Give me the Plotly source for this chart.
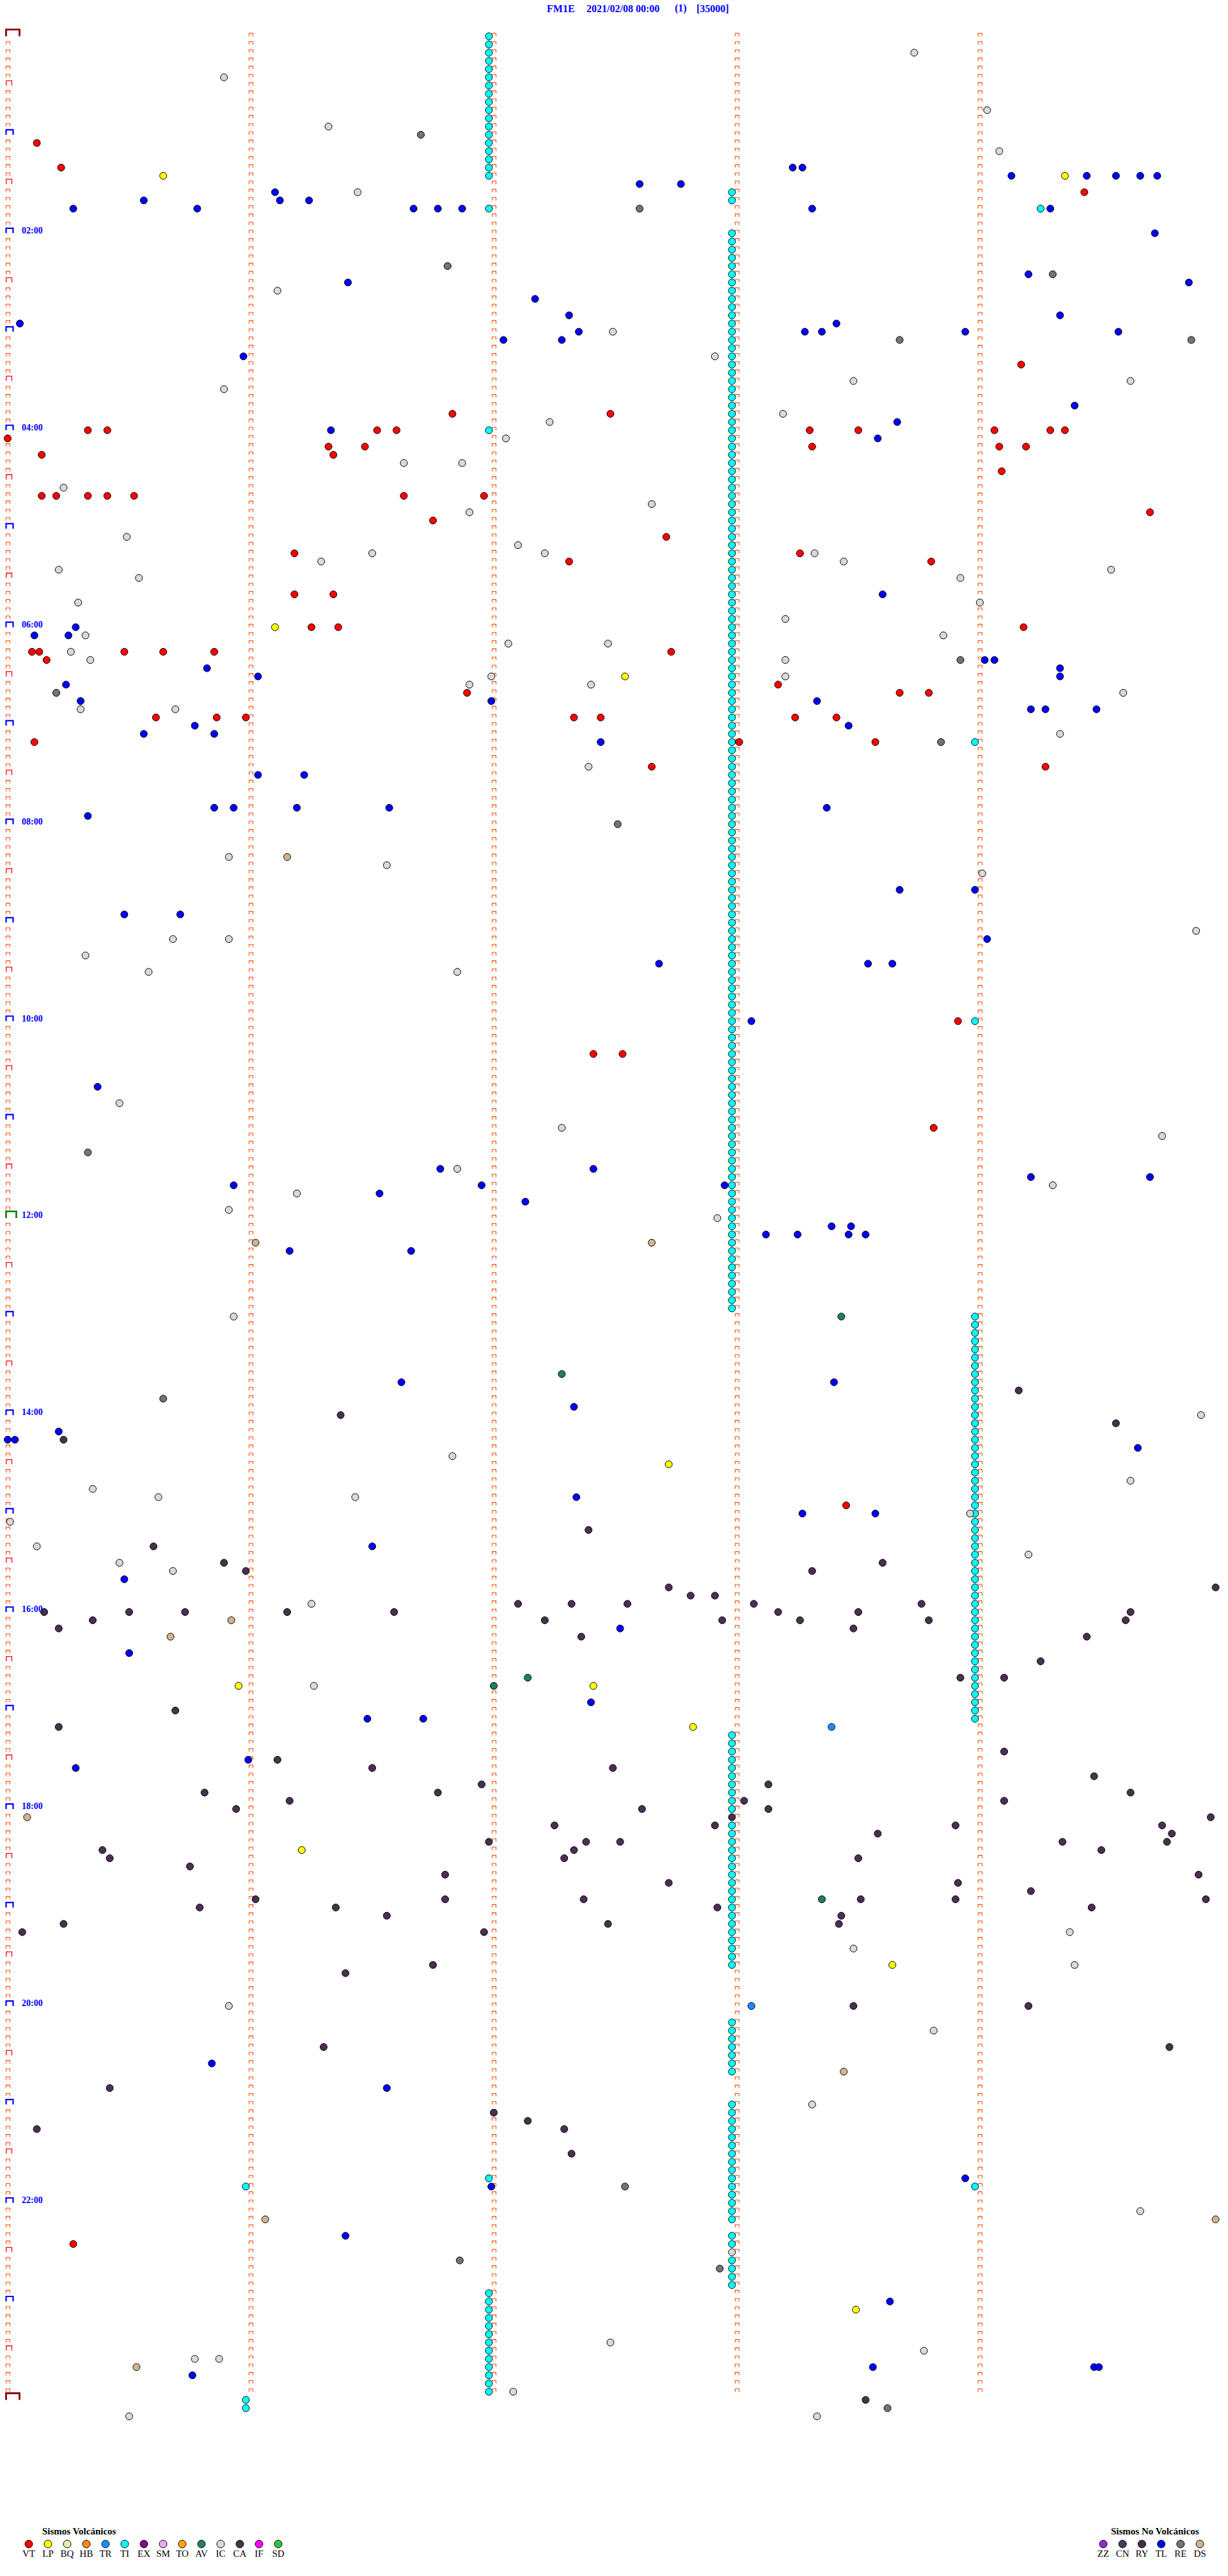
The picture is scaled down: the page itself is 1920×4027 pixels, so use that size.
import numpy as np
import plotly.graph_objects as go

# ---------------- data: event times in minutes after 00:00 (2021/02/08) ----------------
TITLE_PARTS = ["FM1E", "2021/02/08 00:00", "(1)", "[35000]"]
HOUR_LABELS = ["02:00", "04:00", "06:00", "08:00", "10:00", "12:00",
               "14:00", "16:00", "18:00", "20:00", "22:00"]
HOUR_LABEL_HOURS = [2, 4, 6, 8, 10, 12, 14, 16, 18, 20, 22]

VOLC_TYPES = ["VT", "LP", "BQ", "HB", "TR", "TI", "EX", "SM", "TO", "AV", "IC", "CA", "IF", "SD"]
NOVOLC_TYPES = ["ZZ", "CN", "RY", "TL", "RE", "DS"]

VT = [65.12, 80.22, 99.43, 204.17, 231.83, 232.48, 240.33, 240.41, 241.52, 241.60, 243.30, 243.50,
      244.06, 244.29, 244.35, 245.00, 251.32, 251.47, 253.31, 254.08, 254.19, 255.14, 256.34, 269.09,
      280.14, 280.20, 280.33, 280.41, 280.52, 281.63, 281.96, 294.70, 296.75, 307.71, 316.18, 318.26,
      322.31, 323.80, 341.18, 341.34, 361.25, 361.36, 364.18, 375.10, 375.13, 375.48, 375.64, 375.85,
      377.73, 380.16, 398.17, 401.89, 403.67, 403.79, 415.61, 415.86, 415.98, 417.33, 417.44, 418.24,
      418.41, 430.11, 433.01, 433.57, 447.65, 449.27, 603.91, 622.41, 622.53, 668.81, 898.45, 1345.27]
LP = [85.64, 89.35, 361.10, 392.54, 872.72, 1005.95, 1007.41, 1032.82, 1106.21, 1178.64, 1388.49]
TR = [1033.39, 1203.06]
AV = [783.43, 817.28, 1007.00, 1002.14, 1138.35]
TI = [1.98, 6.98, 11.98, 16.98, 21.98, 26.98, 31.98, 36.98, 41.98, 46.98, 51.98, 56.98, 61.98,
      66.98, 71.98, 76.98, 81.98, 86.98, 106.98, 241.98, 1306.98, 1376.98, 1381.98, 1386.98, 1391.98,
      1396.98, 1401.98, 1406.98, 1411.98, 1416.98, 1421.98, 1426.98, 1431.98, 1436.98,
      97.98, 102.98, 109.25,
      122.98, 127.98, 132.98, 137.98, 142.98, 147.98, 152.98, 157.98, 162.98, 167.98,
      172.98, 177.98, 182.98, 187.98, 192.98, 197.98, 202.98, 207.98, 212.98, 217.98,
      222.98, 227.98, 232.98, 237.98, 242.98, 247.98, 252.98, 257.98, 262.98, 267.98,
      272.98, 277.98, 282.98, 287.98, 292.98, 297.98, 302.98, 307.98, 312.98, 317.98,
      322.98, 327.98, 332.98, 337.98, 342.98, 347.98, 352.98, 357.98, 362.98, 367.98,
      372.98, 377.98, 382.98, 387.98, 392.98, 397.98, 402.98, 407.98, 412.98, 417.98,
      422.98, 427.98, 432.98, 437.98, 442.98, 447.98, 452.98, 457.98, 462.98, 467.98,
      472.98, 477.98, 482.98, 487.98, 492.98, 497.98, 502.98, 507.98, 512.98, 517.98,
      522.98, 527.98, 532.98, 537.98, 542.98, 547.98, 552.98, 557.98, 562.98, 567.98,
      572.98, 577.98, 582.98, 587.98, 592.98, 597.98, 602.98, 607.98, 612.98, 617.98,
      622.98, 627.98, 632.98, 637.98, 642.98, 647.98, 652.98, 657.98, 662.98, 667.98,
      672.98, 677.98, 682.98, 687.98, 692.98, 697.98, 702.98, 707.98, 712.98, 717.98,
      722.98, 727.98, 732.98, 737.98, 742.98, 747.98, 752.98, 757.98, 762.98, 767.98,
      772.98, 777.98,
      1037.98, 1042.98, 1047.98, 1052.98, 1057.98, 1062.98, 1067.98, 1072.98, 1077.98, 1082.98,
      1092.98, 1097.98, 1102.98, 1107.98, 1112.98, 1117.98, 1122.98, 1127.98, 1132.98, 1137.98,
      1142.98, 1147.98, 1152.98, 1157.98, 1162.98, 1167.98, 1172.98, 1177.98,
      1212.98, 1217.98, 1222.98, 1227.98, 1232.98, 1237.98, 1242.98,
      1262.98, 1267.98, 1272.98, 1277.98, 1282.98, 1287.98, 1292.98, 1297.98, 1302.98, 1307.98,
      1312.98, 1317.98, 1322.98, 1327.98, 1332.98,
      1342.98, 1347.98, 1357.98, 1362.98, 1367.98, 1372.98,
      433.98, 603.98,
      783.98, 788.98, 793.98, 798.98, 803.98, 808.98, 813.98, 818.98, 823.98, 828.98,
      833.98, 838.98, 843.98, 848.98, 853.98, 858.98, 863.98, 868.98, 873.98, 878.98,
      883.98, 888.98, 893.98, 898.98, 903.98, 908.98, 913.98, 918.98, 923.98, 928.98,
      933.98, 938.98, 943.98, 948.98, 953.98, 958.98, 963.98, 968.98, 973.98, 978.98,
      983.98, 988.98, 993.98, 998.98, 1003.98, 1008.98, 1013.98, 1018.98, 1023.98, 1028.98,
      1313.98, 1310.98, 1440.98, 1445.98]
IC = [13.73, 25.89, 49.03, 56.32, 74.08, 96.44, 156.11, 182.49, 197.91, 213.48, 214.62, 215.89,
      233.19, 237.23, 247.05, 261.63, 261.87, 275.23, 287.65, 291.90, 305.49, 312.10, 316.50, 317.21,
      318.32, 321.29, 323.44, 325.21, 329.54, 330.54, 333.92, 345.29, 349.00, 358.20, 365.32, 368.85,
      372.06, 372.47, 375.26, 380.34, 383.20, 391.99, 393.20, 396.90, 397.40, 404.59, 410.30, 410.69,
      429.33, 447.39, 500.91, 506.56, 514.01, 549.89, 550.68, 550.91, 560.32, 570.58, 571.85, 650.46,
      667.28, 674.75, 691.85, 704.30, 706.19, 715.91, 722.92, 780.93, 844.91, 866.83, 884.62, 885.35,
      890.62, 891.43, 903.96, 905.01, 920.12, 929.20, 930.46, 935.68, 956.25, 1006.26, 1159.37,
      1168.48, 1179.39, 1200.91, 1218.81, 1263.31, 1329.66, 1352.98, 1407.48, 1413.77, 1415.77,
      1415.87, 1437.08, 1450.50, 1453.33]
CA = [829.16, 841.37, 849.56, 855.23, 912.39, 920.60, 930.89, 933.60, 935.98, 938.31, 947.72, 949.97,
      952.81, 952.91, 957.10, 957.32, 957.55, 958.07, 958.76, 960.15, 960.50, 960.73, 961.15, 961.59,
      963.17, 963.50, 964.62, 965.35, 967.21, 967.94, 968.26, 968.79, 969.60, 970.21, 973.48, 977.36,
      979.44, 994.25, 1004.10, 1003.92, 1020.69, 1030.21, 1049.10, 1051.11, 1056.50, 1057.49, 1064.47,
      1066.95, 1068.13, 1070.81, 1071.77, 1074.62, 1076.16, 1078.03, 1079.10, 1080.94, 1082.61,
      1083.13, 1087.98, 1089.95, 1092.25, 1092.91, 1093.90, 1094.75, 1098.58, 1099.79, 1101.98,
      1102.38, 1102.52, 1104.34, 1104.77, 1105.39, 1107.33, 1109.50, 1110.42, 1112.29, 1113.50,
      1115.75, 1121.80, 1124.90, 1127.72, 1128.91, 1134.21, 1136.02, 1136.80, 1137.37, 1138.51,
      1138.90, 1139.93, 1140.79, 1141.35, 1142.92, 1144.46, 1146.56, 1148.43, 1150.23, 1152.47,
      1153.42, 1155.06, 1156.96, 1176.75, 1181.39, 1203.48, 1204.20, 1226.30, 1229.78, 1250.42,
      1267.00, 1272.14, 1275.12, 1277.29, 1292.32, 1443.53]
TL = [83.23, 83.27, 89.13, 89.44, 89.56, 89.66, 89.73, 92.60, 92.77, 96.10, 101.12, 101.24, 100.56,
      105.27, 105.78, 106.67, 106.77, 106.87, 108.31, 109.29, 124.72, 149.20, 151.40, 154.86, 162.17,
      172.31, 174.33, 175.05, 178.41, 182.35, 183.28, 183.35, 183.94, 184.57, 187.04, 187.28, 195.97,
      229.39, 238.66, 241.33, 248.58, 343.60, 360.28, 365.11, 365.25, 384.02, 384.06, 385.82, 389.33,
      391.03, 394.33, 395.24, 405.30, 406.99, 408.33, 414.21, 414.27, 414.48, 420.77, 423.46, 425.56,
      425.85, 432.44, 451.03, 451.22, 470.85, 470.93, 471.19, 471.57, 473.37, 475.33, 523.67, 523.98,
      535.48, 535.71, 554.03, 567.68, 568.54, 568.64, 603.06, 640.37, 691.78, 692.41, 699.21, 699.70,
      700.93, 701.95, 702.95, 706.53, 712.13, 728.39, 728.47, 733.12, 733.25, 733.46, 733.53, 741.16,
      741.66, 821.62, 823.40, 837.33, 850.21, 855.00, 855.03, 864.65, 892.34, 903.27, 903.57, 921.50,
      940.48, 972.52, 985.50, 1017.40, 1026.48, 1026.71, 1050.99, 1055.28, 1235.84, 1251.56, 1308.94,
      1311.99, 1341.39, 1383.63, 1423.56, 1424.47, 1424.49, 1425.76]
RE = [61.70, 107.60, 141.81, 149.30, 188.67, 189.87, 383.92, 400.20, 433.84, 482.51, 680.33, 830.64,
      1312.54, 1356.86, 1362.93, 1448.62]
DS = [501.15, 736.02, 737.65, 965.92, 975.67, 1085.08, 1243.44, 1331.06, 1334.97, 1420.53]

EVENTS = {"VT": VT, "LP": LP, "TR": TR, "TI": TI, "AV": AV, "IC": IC, "CA": CA,
          "RE": RE, "DS": DS, "TL": TL}

# ---------------- styles ----------------
COLORS = {"VT": "#ff0000", "LP": "#ffff00", "BQ": "#eee8aa", "HB": "#ff8a1c", "TR": "#1e8cff",
          "TI": "#00ffff", "EX": "#8b008b", "SM": "#eeaae6", "TO": "#ffa500", "AV": "#1f8060",
          "IC": "#d9d9d9", "CA": "#4a3050", "IF": "#ff00ff", "SD": "#33c433",
          "ZZ": "#8a2be2", "CN": "#4a3c5a", "RY": "#4a2c48", "TL": "#0000ff", "RE": "#747474",
          "DS": "#d2b48c"}
SERIF = "Liberation Serif, Times New Roman, serif"

W, H = 1920, 4027
X0, PX_MIN = 12.0, 380.0          # pixel of minute 0, pixels per minute
Y0, PX_ROW = 56.7, 12.83          # pixel of row 0 baseline, pixels per 5-minute row
N_ROWS = 288
ROW_MIN = 5

xr = [(-X0) / PX_MIN, (W - X0) / PX_MIN]
yr = [(H - Y0) / PX_ROW, (-Y0) / PX_ROW]

def px_x(p):   # pixel width -> minutes
    return p / PX_MIN

def px_y(p):   # pixel height -> rows
    return p / PX_ROW

fig = go.Figure()

# ---------------- minute tick brackets ----------------
def bracket_path(cols, rows, left_px, right_px, h_px):
    xs, ys = [], []
    for c, r in zip(cols, rows):
        xl, xrr = c + px_x(left_px), c + px_x(right_px)
        top = r - px_y(h_px)
        xs += [xl, xl, xrr, xrr, None]
        ys += [r, top, top, r, None]
    return xs, ys

small_c, small_r = [], []
red_c, red_r, blue_c, blue_r = [], [], [], []
for r in range(N_ROWS):
    for c in range(1, 5):
        small_c.append(c); small_r.append(r)
    if r == 0 or r == 144:
        continue
    if r % 12 == 0:
        blue_c.append(0); blue_r.append(r)
    elif r % 6 == 0:
        red_c.append(0); red_r.append(r)
    else:
        small_c.append(0); small_r.append(r)

for (cols, rows, l, rgt, h, col, lw) in [
        (small_c, small_r, -2.5, 3.5, 4.6, "#ff4a00", 1.1),
        (red_c, red_r, -2.2, 6.5, 7.5, "#ff0000", 1.3),
        (blue_c, blue_r, -2.5, 8.5, 7.8, "#0000ff", 2.2),
        ([0], [144], -2.5, 13.5, 10.5, "#008000", 2.6),
        ([0, 0], [0, N_ROWS], -2.5, 18.5, 10.5, "#8b0000", 2.8)]:
    xs, ys = bracket_path(cols, rows, l, rgt, h)
    fig.add_trace(go.Scatter(x=xs, y=ys, mode="lines", line=dict(color=col, width=lw),
                             hoverinfo="skip", showlegend=False))

# ---------------- events ----------------
draw_order = ["TI", "IC", "RE", "DS", "AV", "LP", "TR", "CA", "VT", "TL"]
for k in draw_order:
    t = np.array(EVENTS[k], dtype=float)
    rows = np.floor(t / ROW_MIN)
    offs = t - rows * ROW_MIN
    fig.add_trace(go.Scatter(x=offs, y=rows, mode="markers", name=k, showlegend=False,
                             marker=dict(size=11, color=COLORS[k], line=dict(color="black", width=1))))

# ---------------- legend rows ----------------
LEG_ROW = (3977 - Y0) / PX_ROW
fig.add_trace(go.Scatter(x=list(range(len(VOLC_TYPES))), y=[LEG_ROW] * len(VOLC_TYPES),
                         xaxis="x2", mode="markers+text", text=VOLC_TYPES, textposition="bottom center",
                         textfont=dict(family=SERIF, size=15, color="black"),
                         marker=dict(size=12, color=[COLORS[k] for k in VOLC_TYPES],
                                     line=dict(color="black", width=1)),
                         showlegend=False, hoverinfo="skip"))
fig.add_trace(go.Scatter(x=list(range(len(NOVOLC_TYPES))), y=[LEG_ROW] * len(NOVOLC_TYPES),
                         xaxis="x3", mode="markers+text", text=NOVOLC_TYPES, textposition="bottom center",
                         textfont=dict(family=SERIF, size=15, color="black"),
                         marker=dict(size=12, color=[COLORS[k] for k in NOVOLC_TYPES],
                                     line=dict(color="black", width=1)),
                         showlegend=False, hoverinfo="skip"))

annotations = []
# hour labels
for lab, hr in zip(HOUR_LABELS, HOUR_LABEL_HOURS):
    annotations.append(dict(x=px_x(20), y=hr * 12 - 0.33, xref="x", yref="y", text="<b>%s</b>" % lab,
                            showarrow=False, xanchor="left", yanchor="middle",
                            font=dict(family=SERIF, size=14, color="#0000ff")))
# title
for txt, xpx in zip(TITLE_PARTS, [853, 915, 1053, 1087]):
    annotations.append(dict(x=xpx / W, y=1 - 13 / H, xref="paper", yref="paper", text="<b>%s</b>" % txt,
                            showarrow=False, xanchor="left", yanchor="middle",
                            font=dict(family=SERIF, size=16, color="#0000ff")))
# legend titles
annotations.append(dict(x=124 / W, y=1 - 3957 / H, xref="paper", yref="paper", text="<b>Sismos Volcánicos</b>",
                        showarrow=False, xanchor="center", yanchor="middle",
                        font=dict(family=SERIF, size=15, color="black")))
annotations.append(dict(x=1806 / W, y=1 - 3957 / H, xref="paper", yref="paper", text="<b>Sismos No Volcánicos</b>",
                        showarrow=False, xanchor="center", yanchor="middle",
                        font=dict(family=SERIF, size=15, color="black")))

LEFT_X, LEFT_STEP = 45.0, 30.0
RIGHT_X, RIGHT_STEP = 1725.0, 30.2

hidden = dict(showgrid=False, zeroline=False, showticklabels=False, ticks="", showline=False)
fig.update_layout(
    width=W, height=H, margin=dict(l=0, r=0, t=0, b=0),
    paper_bgcolor="white", plot_bgcolor="rgba(0,0,0,0)",
    showlegend=False, annotations=annotations,
    xaxis=dict(range=xr, domain=[0, 1], **hidden),
    yaxis=dict(range=yr, domain=[0, 1], **hidden),
    xaxis2=dict(range=[-LEFT_X / LEFT_STEP, (W - LEFT_X) / LEFT_STEP], overlaying="x", anchor="y", **hidden),
    xaxis3=dict(range=[-RIGHT_X / RIGHT_STEP, (W - RIGHT_X) / RIGHT_STEP], overlaying="x", anchor="y", **hidden),
)

fig.write_html("out.html", config={"displayModeBar": False},
               post_script="document.body.style.margin='0';")
